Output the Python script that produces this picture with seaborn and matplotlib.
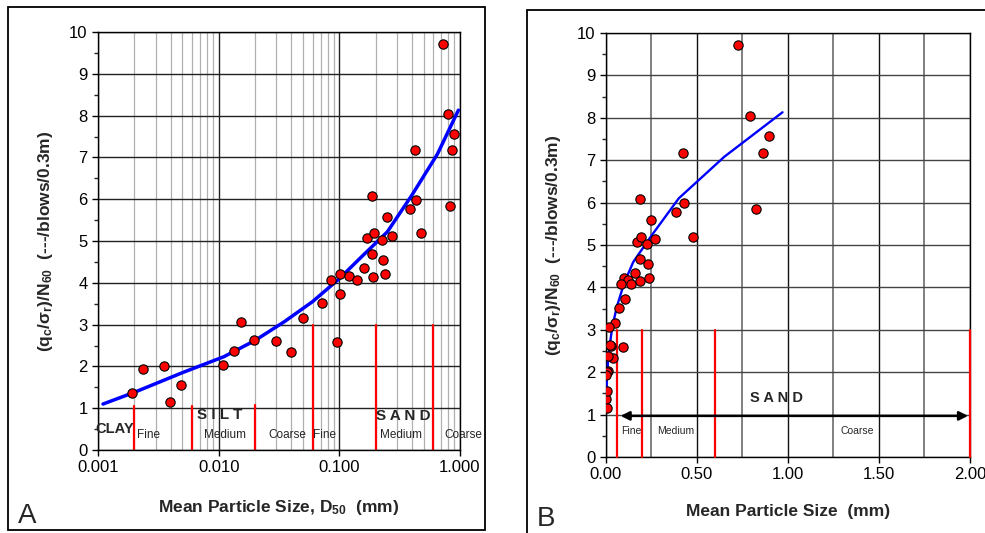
import numpy as np
import pandas as pd
import matplotlib
matplotlib.use("Agg")
import matplotlib.pyplot as plt
import seaborn as sns
from matplotlib.patches import Rectangle
from matplotlib.ticker import FixedLocator, MultipleLocator, LogLocator, NullFormatter

sns.set_theme(style="white")
plt.rcParams['font.family'] = ['Liberation Sans', 'DejaVu Sans']
plt.rcParams['mathtext.default'] = 'regular'

# measured points: mean particle size D50 (mm) vs (qc/sr)/N60
d50 = [0.726, 0.794, 0.896, 0.862, 0.824, 0.421, 0.431, 0.387, 0.477,
       0.185, 0.248, 0.169, 0.192, 0.227, 0.271, 0.185, 0.229, 0.160,
       0.101, 0.121, 0.0847, 0.140, 0.189, 0.239, 0.102, 0.0722, 0.0497,
       0.0955, 0.0298, 0.0395, 0.0196, 0.0152, 0.0134, 0.0109,
       0.00354, 0.00237, 0.00192, 0.00487, 0.00395]
ratio = [9.72, 8.05, 7.57, 7.17, 5.84, 7.17, 5.98, 5.77, 5.19,
         6.08, 5.58, 5.08, 5.19, 5.02, 5.13, 4.68, 4.55, 4.35,
         4.21, 4.17, 4.07, 4.07, 4.15, 4.21, 3.73, 3.52, 3.17,
         2.59, 2.62, 2.34, 2.64, 3.07, 2.38, 2.03,
         2.00, 1.93, 1.37, 1.56, 1.16]

# trend curve
curve_d50 = [0.0011, 0.002, 0.005, 0.011, 0.02, 0.035, 0.06, 0.1, 0.15,
             0.25, 0.4, 0.65, 0.97]
curve_ratio = [1.10, 1.38, 1.85, 2.23, 2.62, 3.07, 3.55, 4.10, 4.60,
               5.22, 6.10, 7.08, 8.13]

# soil class boundaries (mm)
bounds_a = [0.002, 0.006, 0.02, 0.06, 0.2, 0.6]
bounds_a_top = [1.05, 1.05, 1.08, 3.0, 3.0, 3.0]
bounds_b = [0.06, 0.2, 0.6, 2.0]

pts = pd.DataFrame({'d50': d50, 'ratio': ratio})
curve = pd.DataFrame({'d50': curve_d50, 'ratio': curve_ratio})

ylab = '(q$_c$/σ$_r$)/N$_{60}$  (---/blows/0.3m)'

fig = plt.figure(figsize=(9.85, 5.33), dpi=100)
ax_a = fig.add_axes([0.0995, 0.1557, 0.3675, 0.7842])
ax_b = fig.add_axes([0.6152, 0.1426, 0.3695, 0.7955])

# outer frames
fig.add_artist(Rectangle((0.0081, 0.0056), 0.4843, 0.981, transform=fig.transFigure,
                         fill=False, ec='black', lw=1.3))
fig.add_artist(Rectangle((0.535, -0.02), 0.5, 1.001, transform=fig.transFigure,
                         fill=False, ec='black', lw=1.3))

# ---- Panel A (log x) ----
ax = ax_a
ax.set_xscale('log')
ax.set_xlim(0.001, 1.0)
ax.set_ylim(0, 10)
ax.xaxis.set_major_locator(FixedLocator([0.001, 0.01, 0.1, 1.0]))
ax.set_xticklabels(['0.001', '0.010', '0.100', '1.000'])
ax.xaxis.set_minor_locator(LogLocator(base=10, subs=np.arange(2, 10)))
ax.xaxis.set_minor_formatter(NullFormatter())
ax.yaxis.set_major_locator(MultipleLocator(1))
ax.yaxis.set_minor_locator(MultipleLocator(0.5))
ax.xaxis.grid(True, which='major', color='#222222', lw=1.0, zorder=0)
ax.xaxis.grid(True, which='minor', color='#b0b0b0', lw=0.9, zorder=0)
ax.yaxis.grid(True, which='major', color='#222222', lw=1.0, zorder=0)
ax.tick_params(axis='x', which='minor', length=0)
ax.tick_params(axis='both', which='major', direction='out', length=4, width=1,
               labelsize=12, bottom=True, left=True, colors='black')
ax.tick_params(axis='y', which='minor', direction='out', length=3, width=1, left=True)
ax.set_axisbelow(True)

for xb, yt in zip(bounds_a, bounds_a_top):
    ax.plot([xb, xb], [0, yt], color='red', lw=1.6, zorder=2)

sns.lineplot(data=curve, x='d50', y='ratio', ax=ax, color='#0000ff', lw=2.5,
             estimator=None, zorder=3)
sns.scatterplot(data=pts, x='d50', y='ratio', ax=ax, color='red', s=45,
                edgecolor='black', linewidth=0.8, zorder=4)

ax.text(0.00096, 0.5, 'CLAY', fontsize=10.5, fontweight='bold', ha='left', va='center')
ax.text(0.0021, 0.37, 'Fine', fontsize=8.5, ha='left', va='center')
ax.text(0.0066, 0.84, 'S I L T', fontsize=11, fontweight='bold', ha='left', va='center')
ax.text(0.01135, 0.37, 'Medium', fontsize=8.5, ha='center', va='center')
ax.text(0.0368, 0.37, 'Coarse', fontsize=8.5, ha='center', va='center')
ax.text(0.061, 0.37, 'Fine', fontsize=8.5, ha='left', va='center')
ax.text(0.2, 0.82, 'S A N D', fontsize=11, fontweight='bold', ha='left', va='center')
ax.text(0.326, 0.37, 'Medium', fontsize=8.5, ha='center', va='center')
ax.text(1.057, 0.37, 'Coarse', fontsize=8.5, ha='center', va='center', clip_on=False)

ax.set_xlabel('Mean Particle Size, D$_{50}$  (mm)', fontsize=12.5, fontweight='bold')
ax.set_ylabel(ylab, fontsize=12.5, fontweight='bold')
ax.xaxis.set_label_coords(0.5, -0.115)
ax.yaxis.set_label_coords(-0.119, 0.5)
for sp in ax.spines.values():
    sp.set_color('black')
    sp.set_linewidth(1.0)

# ---- Panel B (linear x) ----
ax = ax_b
ax.set_xlim(0, 2.0)
ax.set_ylim(0, 10)
ax.xaxis.set_major_locator(MultipleLocator(0.5))
ax.xaxis.set_minor_locator(MultipleLocator(0.25))
ax.xaxis.set_major_formatter(matplotlib.ticker.FormatStrFormatter('%.2f'))
ax.yaxis.set_major_locator(MultipleLocator(1))
ax.yaxis.set_minor_locator(MultipleLocator(0.5))
ax.xaxis.grid(True, which='major', color='#111111', lw=1.0, zorder=0)
ax.xaxis.grid(True, which='minor', color='#808080', lw=1.4, zorder=0)
ax.yaxis.grid(True, which='major', color='#444444', lw=1.0, zorder=0)
ax.tick_params(axis='x', which='minor', length=0)
ax.tick_params(axis='both', which='major', direction='out', length=4, width=1,
               labelsize=12, bottom=True, left=True, colors='black')
ax.tick_params(axis='y', which='minor', direction='out', length=3, width=1, left=True)
ax.set_axisbelow(True)

for xb in bounds_b:
    ax.plot([xb, xb], [0, 3.0], color='red', lw=1.6, zorder=3, clip_on=False)

sns.lineplot(data=curve, x='d50', y='ratio', ax=ax, color='#0000ff', lw=1.7,
             estimator=None, zorder=3)
sns.scatterplot(data=pts, x='d50', y='ratio', ax=ax, color='red', s=45,
                edgecolor='black', linewidth=0.8, zorder=4)

ax.annotate('', xy=(0.08, 0.97), xytext=(1.99, 0.97),
            arrowprops=dict(arrowstyle='<|-|>', color='black', lw=1.8,
                            mutation_scale=13, shrinkA=0, shrinkB=0), zorder=5)
ax.text(0.938, 1.38, 'S A N D', fontsize=10.5, fontweight='bold', ha='center', va='center')
ax.text(0.083, 0.61, 'Fine', fontsize=7.5, ha='left', va='center')
ax.text(0.282, 0.61, 'Medium', fontsize=7.5, ha='left', va='center')
ax.text(1.382, 0.61, 'Coarse', fontsize=7.5, ha='center', va='center')

ax.set_xlabel('Mean Particle Size  (mm)', fontsize=12.5, fontweight='bold')
ax.set_ylabel(ylab, fontsize=12.5, fontweight='bold')
ax.xaxis.set_label_coords(0.5, -0.11)
ax.yaxis.set_label_coords(-0.118, 0.5)
for sp in ax.spines.values():
    sp.set_color('black')
    sp.set_linewidth(1.0)

fig.text(18 / 985, 10 / 533, 'A', fontsize=20, ha='left', va='baseline')
fig.text(537 / 985, 7 / 533, 'B', fontsize=20, ha='left', va='baseline')

fig.savefig('out.png', dpi=100)
